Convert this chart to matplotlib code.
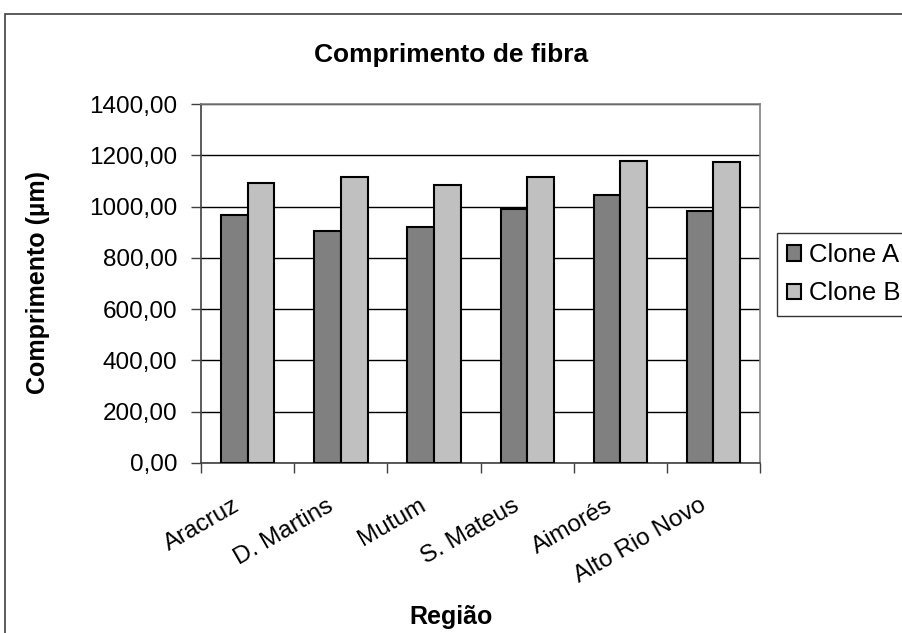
import numpy as np
import matplotlib.pyplot as plt
import matplotlib.transforms as mtransforms
from matplotlib.patches import Rectangle

plt.rcParams['font.family'] = ['Liberation Sans', 'DejaVu Sans']

regioes = ['Aracruz', 'D. Martins', 'Mutum', 'S. Mateus', 'Aimorés', 'Alto Rio Novo']
clone_a = [968, 906, 922, 991, 1046, 983]
clone_b = [1091, 1115, 1083, 1115, 1178, 1172]
yticks = [0, 200, 400, 600, 800, 1000, 1200, 1400]

fig = plt.figure(figsize=(9.02, 6.33), dpi=100)
ax = fig.add_axes([0.223, 0.2686, 0.6196, 0.5671])

# chart area frame (runs off the right and bottom edges)
fig.patches.append(Rectangle((5 / 902, -0.1), 1.2, 1 - 14 / 633 + 0.1,
                             transform=fig.transFigure, fill=False,
                             edgecolor='#404040', linewidth=1.2))

x = np.arange(len(regioes))
w = 0.286
ax.bar(x - w / 2, clone_a, w, color='#808080', edgecolor='black', linewidth=1.5, label='Clone A', zorder=3)
ax.bar(x + w / 2, clone_b, w, color='#c0c0c0', edgecolor='black', linewidth=1.5, label='Clone B', zorder=3)

ax.set_xlim(-0.5, len(regioes) - 0.5)
ax.set_ylim(0, 1400)
ax.set_yticks(yticks)
ax.set_yticklabels([f'{v},00' for v in yticks], fontsize=17.5)
ax.yaxis.grid(True, color='black', linewidth=1.0, zorder=0)
ax.tick_params(axis='y', length=7, width=1, color='#404040', pad=10)

# ticks between categories
ax.set_xticks(np.arange(-0.5, len(regioes), 1.0))
ax.set_xticklabels([])
ax.tick_params(axis='x', length=7, width=1, color='#404040')
ax.set_xticks(x, minor=True)
ax.set_xticklabels(regioes, minor=True, rotation=30, ha='right', rotation_mode='anchor', fontsize=17.5)
ax.tick_params(axis='x', which='minor', length=0, pad=12)
shift = mtransforms.ScaledTranslation(-0.15, -0.15, fig.dpi_scale_trans)
for lab in ax.get_xticklabels(minor=True):
    lab.set_transform(lab.get_transform() + shift)

for side in ['top', 'right']:
    ax.spines[side].set_color('#808080')
for side in ['left', 'bottom']:
    ax.spines[side].set_color('#404040')
for s in ax.spines.values():
    s.set_linewidth(1.2)

fig.text(0.5, 1 - 55 / 633, 'Comprimento de fibra', ha='center', va='center', fontsize=19, fontweight='bold')
fig.text(0.5, 1 - 617 / 633, 'Região', ha='center', va='center', fontsize=18, fontweight='bold')
fig.text(38 / 902, 1 - 283 / 633, 'Comprimento (µm)', ha='center', va='center', rotation=90,
         fontsize=18, fontweight='bold')

leg = fig.legend(loc='upper left', bbox_to_anchor=(777 / 902, 1 - 233 / 633), fontsize=18.5,
                 frameon=True, fancybox=False, edgecolor='black', handlelength=0.55, handleheight=0.55,
                 handletextpad=0.3, borderpad=0.4, labelspacing=0.55, borderaxespad=0)
leg.get_frame().set_linewidth(1.0)

fig.savefig('out.png', dpi=100)
